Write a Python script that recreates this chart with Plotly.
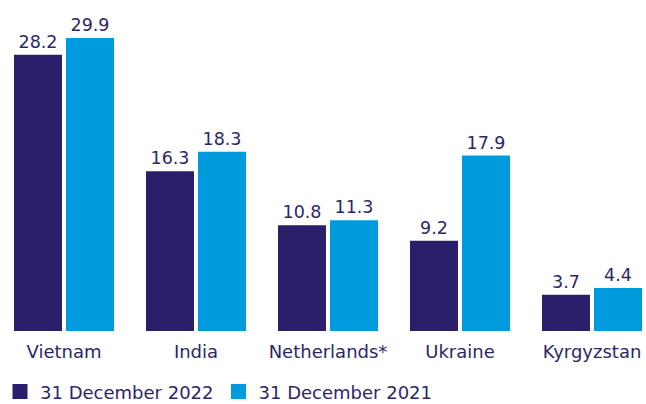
import plotly.graph_objects as go

countries = ["Vietnam", "India", "Netherlands*", "Ukraine", "Kyrgyzstan"]
dec_2022 = [28.2, 16.3, 10.8, 9.2, 3.7]
dec_2021 = [29.9, 18.3, 11.3, 17.9, 4.4]
series_names = ["31 December 2022", "31 December 2021"]

navy = "#2b1f6b"
blue = "#009bdc"
text_navy = "#2d2668"
font_family = "DejaVu Sans"

px_per_cat = 132
first_center = 64

fig = go.Figure()
for name, vals, color in [(series_names[0], dec_2022, navy), (series_names[1], dec_2021, blue)]:
    fig.add_trace(go.Bar(
        x=list(range(len(countries))), y=vals, name=name,
        marker_color=color, marker_line_width=0,
        text=[f"{v:.1f}" for v in vals], textposition="outside",
        textfont=dict(color=text_navy, size=17.5, family=font_family),
        cliponaxis=False, showlegend=False,
    ))
    # legend entry with a bigger square swatch
    fig.add_trace(go.Scatter(
        x=[None], y=[None], mode="markers", name=name,
        marker=dict(symbol="square", size=15, color=color),
    ))

fig.update_layout(
    width=646, height=404,
    margin=dict(l=0, r=0, t=17, b=73, autoexpand=False),
    paper_bgcolor="white", plot_bgcolor="white",
    barmode="group", bargap=0.212, bargroupgap=0.077,
    font=dict(family=font_family, size=18, color=text_navy),
    legend=dict(
        orientation="h", xref="container", yref="paper",
        x=-0.003, y=-0.194, xanchor="left", yanchor="middle",
        font=dict(size=18, color=text_navy),
        itemwidth=30, tracegroupgap=0,
    ),
    xaxis=dict(
        tickmode="array", tickvals=list(range(len(countries))), ticktext=countries,
        range=[-first_center / px_per_cat, (646 - first_center) / px_per_cat],
        showgrid=False, zeroline=False, showline=False, ticks="",
        tickfont=dict(size=18, color=text_navy), automargin=False,
        ticklabelstandoff=8,
    ),
    yaxis=dict(range=[0, 314 / 9.8], visible=False),
    showlegend=True,
)

# drop the default page margin so the figure fills the window exactly
fig.write_html(
    "out.html",
    config={"displayModeBar": False},
    post_script="document.body.style.margin='0';document.body.style.overflow='hidden';",
)
